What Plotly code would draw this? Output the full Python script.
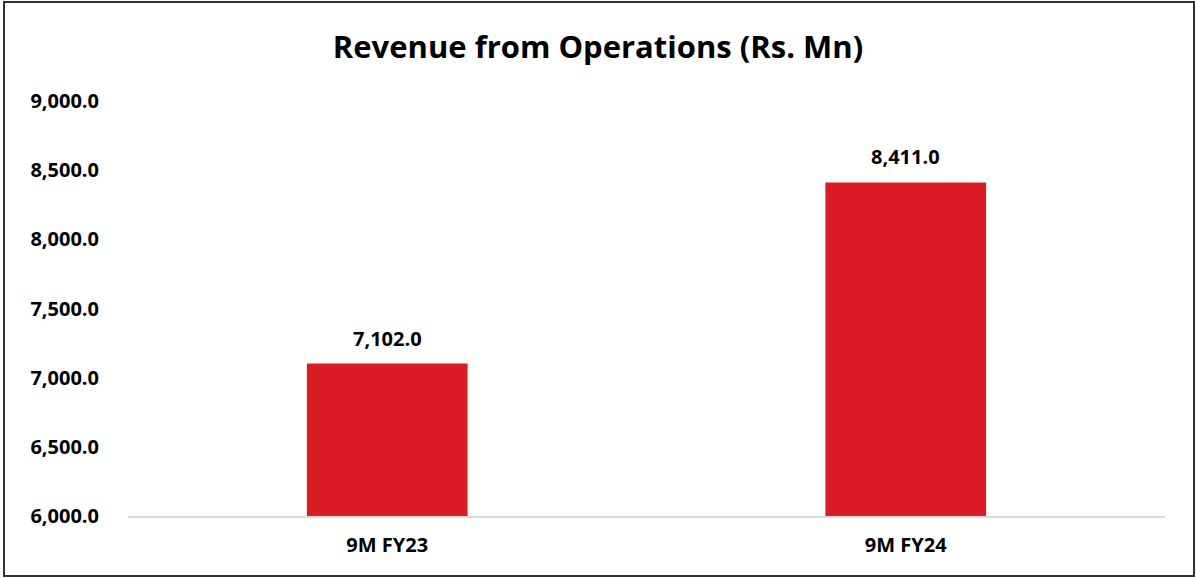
import plotly.graph_objects as go

categories = ["9M FY23", "9M FY24"]
revenue = [7102.0, 8411.0]
y_ticks = [6000, 6500, 7000, 7500, 8000, 8500, 9000]

W, H = 1196, 578
L, R, T, B = 128, 31, 101, 62
pw, ph = W - L - R, H - T - B

def px_x(x):
    return (x - L) / pw

def px_y(y):
    return (H - B - y) / ph

FONT = "Open Sans"

fig = go.Figure(go.Bar(
    x=categories, y=revenue,
    marker=dict(color="#DA1C24", line=dict(width=0)),
    hoverinfo="x+y",
))

annotations = [
    dict(x=c, y=v, xref="x", yref="y", text=f"<b>{v:,.1f}</b>", showarrow=False,
         yanchor="bottom", yshift=10,
         font=dict(family=FONT, size=20, color="#000000"))
    for c, v in zip(categories, revenue)
]

fig.update_layout(
    width=W, height=H,
    margin=dict(l=L, r=R, t=T, b=B),
    paper_bgcolor="white", plot_bgcolor="white",
    bargap=0.69,
    showlegend=False,
    title=dict(text="<b>Revenue from Operations (Rs. Mn)</b>", x=0.5, xanchor="center",
               y=1 - 47 / H, yanchor="middle",
               font=dict(family=FONT, size=31, color="#000000")),
    font=dict(family=FONT, color="#000000"),
    xaxis=dict(showline=True, linecolor="#D9D9D9", linewidth=2, showgrid=False,
               tickvals=categories, ticktext=[f"<b>{c}</b>" for c in categories],
               tickfont=dict(family=FONT, size=20, color="#000000"),
               ticks="", ticklabelstandoff=10),
    yaxis=dict(range=[6000, 9000], tickvals=y_ticks,
               ticktext=[f"<b>{v:,.1f}</b>" for v in y_ticks],
               showgrid=False, zeroline=False, showline=False, ticks="",
               ticklabelstandoff=28,
               tickfont=dict(family=FONT, size=20, color="#000000")),
    annotations=annotations,
    shapes=[dict(type="rect", xref="paper", yref="paper",
                 x0=px_x(4), x1=px_x(1194), y0=px_y(576), y1=px_y(2),
                 line=dict(color="#333333", width=2), fillcolor="rgba(0,0,0,0)", layer="below")],
)

fig.write_html("out.html", config={"displayModeBar": False},
               post_script="document.body.style.margin='0';document.body.style.padding='0';")
